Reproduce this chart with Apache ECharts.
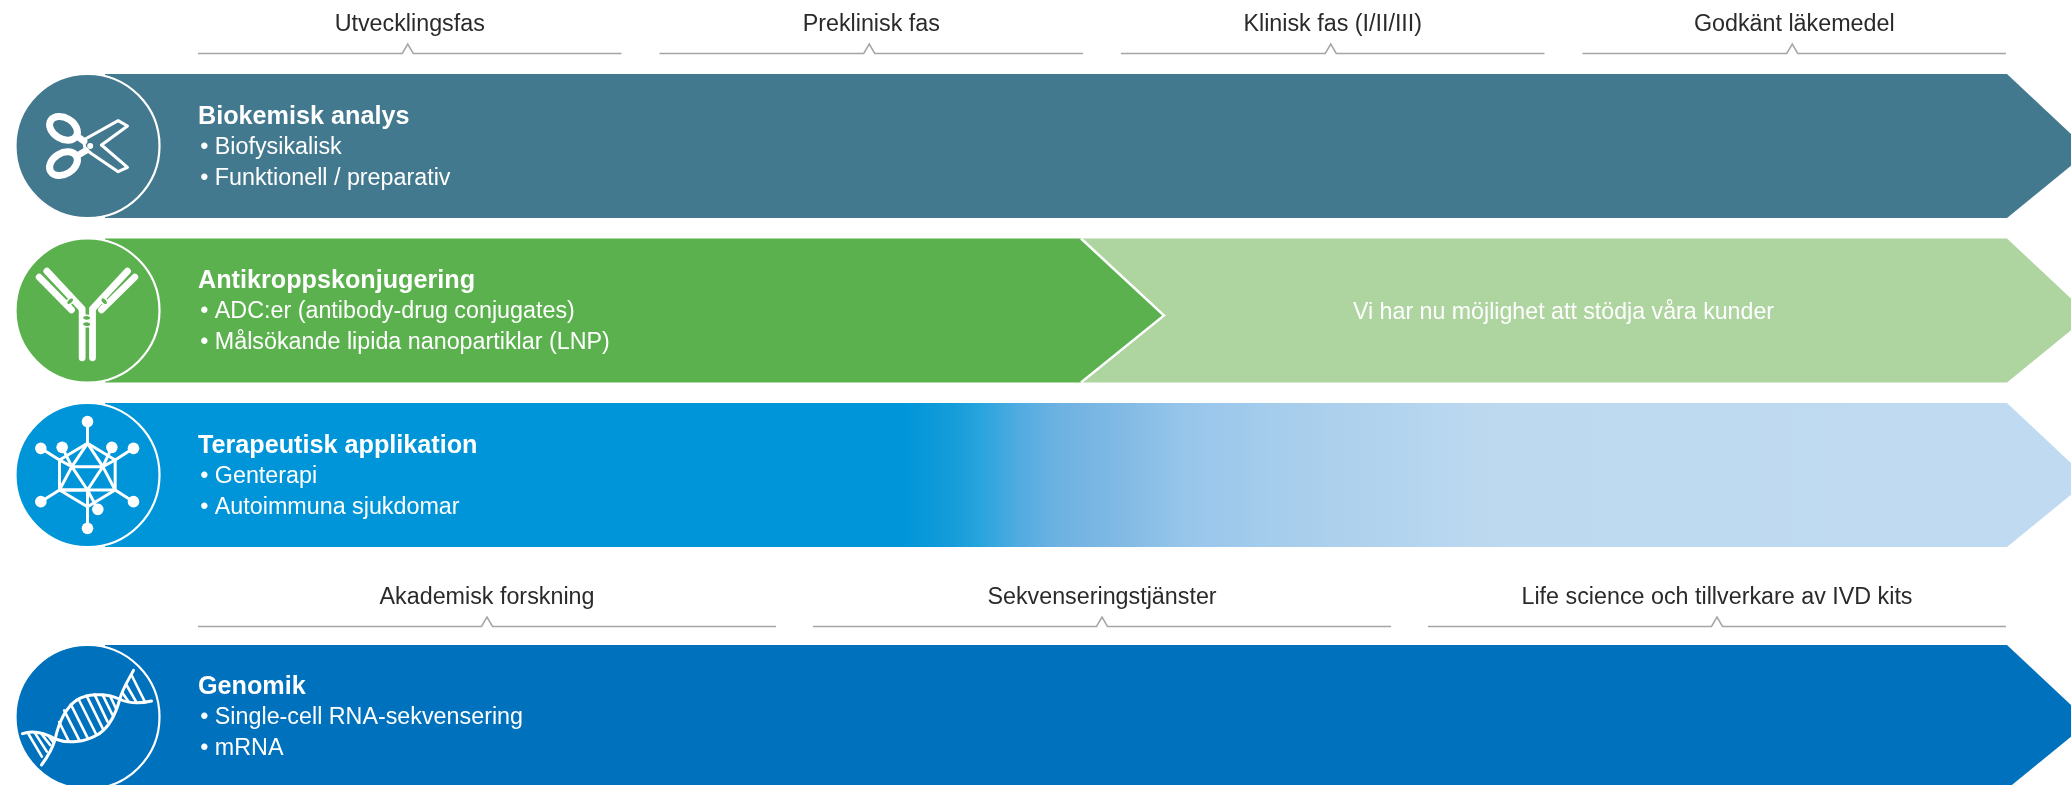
<!DOCTYPE html>
<html><head><meta charset="utf-8">
<style>html,body{margin:0;padding:0;background:#fff;overflow:hidden}#c{width:2071px;height:785px}</style>
<script src="https://cdn.jsdelivr.net/npm/echarts@6/dist/echarts.min.js"></script>
</head><body><div id="c"></div>
<script>
// ---- content
const phaseLabels = ['Utvecklingsfas','Preklinisk fas','Klinisk fas (I/II/III)','Godkänt läkemedel'];
const marketLabels = ['Akademisk forskning','Sekvenseringstjänster','Life science och tillverkare av IVD kits'];
const rowTitles = ['Biokemisk analys','Antikroppskonjugering','Terapeutisk applikation','Genomik'];
const rowBullets1 = ['Biofysikalisk','ADC:er (antibody-drug conjugates)','Genterapi','Single-cell RNA-sekvensering'];
const rowBullets2 = ['Funktionell / preparativ','Målsökande lipida nanopartiklar (LNP)','Autoimmuna sjukdomar','mRNA'];
const greenNote = 'Vi har nu möjlighet att stödja våra kunder';

// ---- layout, in axis units
const ROW_TOP = [74, 238.5, 403, 645];
const ROW_TEXT_SHIFT = [1.5, 1, 1, 0];
const ROW_H = 144, TIP_Y = 77, BODY_X = 105, END_X = 2007, TIP_X = 2089, CX = 87.5, R = 72;
const TXT_X = 198, GREEN_END = 1081, GREEN_TIP = 1164;
const COL = ['#43798f','#5bb14e','#0095d9','#0071bc'], LIGHT_GREEN = '#aed4a0';
const FONT = '"Liberation Sans", Arial, sans-serif';

function arrow(x0, x1, xt, top) {
  return [[x0,top],[x1,top],[xt,top+TIP_Y],[x1,top+ROW_H],[x0,top+ROW_H]];
}
function text(api, s, x, y, size, color, weight, align) {
  const p = api.coord([x, y]);
  return {type:'text', silent:true, style:{text:s, x:p[0], y:p[1], fill:color,
    font:(weight||'normal')+' '+size+'px '+FONT, textAlign:align||'left', textVerticalAlign:'middle'}};
}
function poly(api, pts, fill) {
  return {type:'polygon', silent:true, shape:{points:pts.map(p=>api.coord(p))}, style:{fill:fill}};
}

// ---- icons, drawn in a 3x local space around the circle centre
function icon(api, row) {
  const top = ROW_TOP[row], cy = top + R;
  const pt = (x,y)=>api.coord([CX + x/3, cy + y/3]);
  const W = '#fff';
  const line = (pts,w)=>({type:'polyline',silent:true,
    shape:{points:pts.map(p=>pt(p[0],p[1]))},
    style:{fill:null,stroke:W,lineWidth:w,lineCap:'round',lineJoin:'round'}});
  const bez = (a,b,c,d,w)=>{const p0=pt(a[0],a[1]),p1=pt(b[0],b[1]),p2=pt(c[0],c[1]),p3=pt(d[0],d[1]);
    return {type:'bezierCurve',silent:true,
      shape:{x1:p0[0],y1:p0[1],cpx1:p1[0],cpy1:p1[1],cpx2:p2[0],cpy2:p2[1],x2:p3[0],y2:p3[1]},
      style:{fill:null,stroke:W,lineWidth:w,lineCap:'round'}};};
  const dot = (x,y,r)=>{const p=pt(x,y);return {type:'circle',silent:true,
    shape:{cx:p[0],cy:p[1],r:r},style:{fill:W}};};
  const oval = (x,y,rx,ry,rot,fill,stroke,sw)=>{const p=pt(x,y);return {type:'ellipse',silent:true,
    x:p[0],y:p[1],rotation:rot,shape:{cx:0,cy:0,rx:rx,ry:ry},
    style:{fill:fill||null,stroke:stroke||null,lineWidth:sw||0}};};
  const c = COL[row], out = [];
  if (row === 0) {            // scissors
    out.push(oval(-72,-53,15,10.5,-0.55,null,W,7), oval(-72,53,15,10.5,0.55,null,W,7));
    out.push(line([[-12,-18],[92,-76],[120,-60],[42,-3]],3));
    out.push(line([[42,-3],[120,64],[92,77],[8,20]],3));
    out.push(line([[-32,-30],[-10,-14]],6.5), line([[-32,30],[-5,14]],6.5));
    out.push(line([[-12,-18],[-8,5],[8,20]],3));
    out.push(dot(8,0,3));
  } else if (row === 1) {     // antibody
    const w = 6.8;
    out.push(line([[-16,142],[-16,-5],[-122,-118]],w));
    out.push(line([[15,142],[15,-5],[120,-118]],w));
    out.push(line([[-145,-100],[-48,-2]],w));
    out.push(line([[142,-100],[42,-2]],w));
    out.push(oval(-2.5,22,4.2,2.6,0,c,W,1.5), oval(-2.5,41,4.2,2.6,0,c,W,1.5));
    out.push(oval(-52,-28,4.2,2.6,0.8,c,W,1.5), oval(50,-28,4.2,2.6,-0.8,c,W,1.5));
  } else if (row === 2) {     // virus particle
    const a=[0,-95],b=[83,-45],d=[83,45],e=[0,95],f=[-84,45],g=[-84,-45],h=[-47,-25],k=[46,-25],m=[0,45];
    const w = 3;
    out.push(line([a,b,d,e,f,g,a],w));
    out.push(line([a,h,k,a],w), line([g,h,f,d,k,b],w), line([h,m,k],w), line([f,m],w), line([m,e],w));
    const spikes = [[[0,-160],a],[[0,160],e],[[-140,-80],g],[[138,-80],b],[[-140,80],f],[[138,80],d],
      [[-76,-83],h],[[73,-83],k],[[31,103],m]];
    spikes.forEach(s=>{out.push(line(s,w)); out.push(dot(s[0][0],s[0][1],5.8));});
  } else {                    // DNA helix
    const w = 3;
    out.push(bez([-195,50],[-160,38],[-125,50],[-97,66],w), bez([-97,66],[-60,80],[-10,78],[35,50],w),
             bez([35,50],[65,30],[85,-10],[97,-54],w), bez([97,-54],[105,-85],[125,-115],[138,-140],w));
    out.push(bez([-138,144],[-120,120],[-105,95],[-97,66],w), bez([-97,66],[-88,25],[-70,-25],[-32,-51],w),
             bez([-32,-51],[-5,-68],[50,-75],[95,-54],w), bez([95,-54],[125,-40],[160,-40],[192,-48],w));
    const rungs = [[-177,51,-137,119],[-157,49,-122,104],[-137,52,-112,84],[-117,57,-102,76],
      [-85,15,-56,73],[-70,-20,-24,71],[-50,-38,1,64],[-27,-54,27,54],[-3,-64,47,37],[21,-68,60,14],[45,-67,75,-6],[68,-63,86,-24],
      [105,-72,122,-48],[117,-96,147,-44],[132,-126,172,-46]];
    rungs.forEach(r=>out.push(line([[r[0],r[1]],[r[2],r[3]]],2.6)));
  }
  return out;
}

// ---- series
const rowData = rowTitles.map((t,i)=>[i]);

function renderRow(params, api) {
  const i = api.value(0), top = ROW_TOP[i], children = [];
  const cy = top + R, ts = ROW_TEXT_SHIFT[i];
  if (i === 1) {
    children.push(poly(api, arrow(GREEN_END, END_X, TIP_X, top), LIGHT_GREEN));
    children.push(poly(api, arrow(BODY_X, GREEN_END, GREEN_TIP, top), COL[1]));
    const o = arrow(BODY_X, GREEN_END, GREEN_TIP, top).slice(1,4).map(p=>api.coord(p));
    children.push({type:'polyline',silent:true,shape:{points:o},
      style:{fill:null,stroke:'#fff',lineWidth:2.4}});
    children.push(text(api, greenNote, 1563.5, top+74, 23.2, '#fff', 'normal', 'center'));
  } else if (i === 2) {
    const fill = new echarts.graphic.LinearGradient(0,0,1,0,[
      {offset:0,color:'#0095d9'},{offset:0.402,color:'#0095d9'},{offset:0.426,color:'#139cd9'},
      {offset:0.4425,color:'#2aa5de'},{offset:0.46,color:'#50abe0'},{offset:0.476,color:'#68b1e2'},
      {offset:0.493,color:'#76b5e3'},{offset:0.51,color:'#7fb9e4'},{offset:0.527,color:'#8bbfe7'},
      {offset:0.543,color:'#96c5ea'},{offset:0.56,color:'#9cc8ec'},{offset:0.594,color:'#a6cdec'},
      {offset:0.6275,color:'#aed1ed'},{offset:0.70,color:'#bdd9f0'},{offset:1,color:'#c0dbf1'}]);
    children.push(poly(api, arrow(BODY_X, END_X, TIP_X, top), fill));
  } else {
    children.push(poly(api, arrow(BODY_X, END_X, TIP_X, top), COL[i]));
  }
  const c = api.coord([CX, cy]);
  children.push({type:'circle',silent:true,shape:{cx:c[0],cy:c[1],r:R},
    style:{fill:COL[i],stroke:'#fff',lineWidth:2.2}});
  icon(api, i).forEach(e=>children.push(e));
  children.push(text(api, rowTitles[i], TXT_X, top+42+ts, 25.2, '#fff', 'bold'));
  children.push(text(api, '• '+rowBullets1[i], TXT_X+2.2, top+72.5+ts, 23.3, '#fff'));
  children.push(text(api, '• '+rowBullets2[i], TXT_X+2.2, top+103.5+ts, 23.3, '#fff'));
  return {type:'group',children:children};
}

// header brackets: columns split the span [198,2006] evenly, with a fixed gutter
function renderHeader(labels, lineY, gutter, notchShift) {
  return function(params, api) {
    const i = api.value(0), n = labels.length;
    const span = 2006-198, w = (span-gutter*(n-1))/n;
    const x0 = 198+i*(w+gutter), x1 = x0+w, xc = (x0+x1)/2, xm = xc+notchShift;
    const pts = [[x0,lineY],[xm-5.5,lineY],[xm,lineY-9.5],[xm+5.5,lineY],[x1,lineY]].map(p=>api.coord(p));
    return {type:'group',children:[
      {type:'polyline',silent:true,shape:{points:pts},style:{fill:null,stroke:'#a5a5a5',lineWidth:1.5}},
      text(api, labels[i], xc, lineY-29, 23.3, '#2a2a2a', 'normal', 'center')
    ]};
  };
}

const chart = echarts.init(document.getElementById('c'), null, {renderer:'canvas'});
chart.setOption({
  animation:false,
  backgroundColor:'#fff',
  grid:{left:0,right:0,top:0,bottom:0},
  xAxis:{type:'value',min:0,max:2071,show:false},
  yAxis:{type:'value',min:0,max:785,inverse:true,show:false},
  tooltip:{show:false},
  series:[
    {type:'custom',clip:false,coordinateSystem:'cartesian2d',data:rowData,renderItem:renderRow,encode:{x:-1,y:-1}},
    {type:'custom',clip:false,coordinateSystem:'cartesian2d',data:phaseLabels.map((t,i)=>[i]),renderItem:renderHeader(phaseLabels,53.5,38,-2),encode:{x:-1,y:-1}},
    {type:'custom',clip:false,coordinateSystem:'cartesian2d',data:marketLabels.map((t,i)=>[i]),renderItem:renderHeader(marketLabels,626.5,37,0),encode:{x:-1,y:-1}}
  ]
});
</script></body></html>
